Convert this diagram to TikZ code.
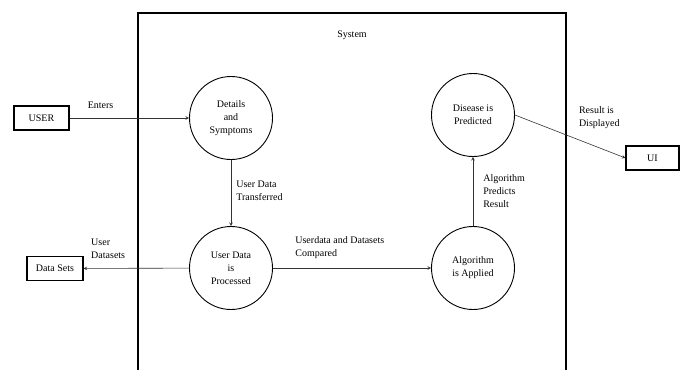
\documentclass[tikz,border=0pt]{standalone}
\usepackage{fontspec}
\setmainfont{Liberation Serif}
\usetikzlibrary{shapes.geometric, arrows}
\tikzstyle{process} = [circle, minimum size=83pt, inner sep=0pt, text centered, align=center, draw=black, line width=0.9pt, font=\fontsize{10}{13}\selectfont]
\tikzstyle{entity} = [rectangle, minimum height=24pt, text centered, draw=black, line width=1.1pt, font=\fontsize{10}{13}\selectfont]
\tikzstyle{flowtext} = [inner sep=0pt, align=left, font=\fontsize{10}{13}\selectfont]
\tikzstyle{arrow} = [line width=0.6pt, draw=black!80, ->, >=stealth]

\begin{document}
\begin{tikzpicture}[x=1pt, y=-1pt]
        \useasboundingbox (0,0) rectangle (687,370);
        % system boundary
        \draw[line width=1.1pt] (138,370) -- (138,13) -- (566,13) -- (566,370);
        \node (system) [flowtext] at (352,35) {System};

        \node (user) [entity, minimum width=55pt] at (41.5,118) {USER};
        \node (datasets) [entity, minimum width=56pt] at (55,268.5) {Data Sets};
        \node (ui) [entity, minimum width=53pt] at (652.5,158) {UI};

        \node (details) [process] at (231,118) {Details\\and\\Symptoms};
        \node (processed) [process] at (231,268) {User Data\\is\\Processed};
        \node (applied) [process] at (473,268) {Algorithm\\is Applied};
        \node (predicted) [process] at (473,115) {Disease is\\Predicted};


        \draw [arrow] (user) -- node[flowtext, pos=0.15, anchor=base west, yshift=9.5pt] {Enters} (details);
        \draw [arrow] (details) -- node[flowtext, pos=0.32, anchor=north west, xshift=5pt] {User Data\\Transferred} (processed);
        \draw [arrow] (processed) -- node[flowtext, pos=0.14, anchor=south west, yshift=9.3pt] {Userdata and Datasets\\Compared} (applied);
        \draw [arrow] (processed) -- node[flowtext, pos=0.93, anchor=south west, yshift=9.5pt] {User\\Datasets} (datasets);
        \draw [arrow] (applied) -- node[flowtext, pos=0.75, anchor=north west, xshift=10pt] {Algorithm\\Predicts\\Result} (predicted);
        \draw [arrow] (predicted.east) -- node[flowtext, pos=0.577, anchor=south west, yshift=11pt] {Result is\\Displayed} (ui.west);

    \end{tikzpicture}
\end{document}
